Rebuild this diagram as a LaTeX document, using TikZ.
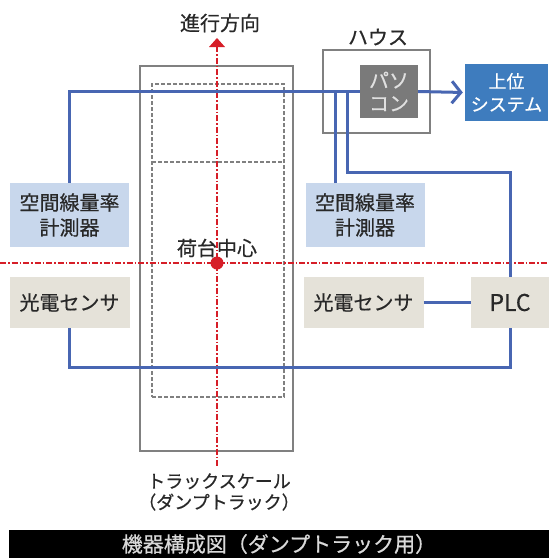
\documentclass[tikz,border=0pt]{standalone}
\usepackage{fontspec}
\newfontfamily\jp[FakeBold=0.6]{Noto Sans CJK JP}
\usetikzlibrary{arrows.meta,calc}
\definecolor{lineblue}{RGB}{72,102,178}
\definecolor{kukanblue}{RGB}{200,215,236}
\definecolor{beige}{RGB}{229,226,217}
\definecolor{framegray}{RGB}{128,128,128}
\definecolor{pcgray}{RGB}{122,122,122}
\definecolor{upperblue}{RGB}{62,124,190}
\definecolor{txt}{RGB}{40,40,40}
\definecolor{redline}{RGB}{214,30,40}
\tikzset{
  fbox/.style={inner sep=0pt, align=center, text=txt, font=\jp\fontsize{20}{25}\selectfont},
  kukan/.style={fbox, fill=kukanblue, minimum width=119pt, minimum height=64pt},
  kouden/.style={fbox, fill=beige, minimum width=120pt, minimum height=51pt},
  blueline/.style={draw=lineblue, line width=3pt},
  frame/.style={draw=framegray, line width=2.4pt},
  redaxis/.style={draw=redline, line width=1.1pt, dash pattern=on 6pt off 2pt on 1.5pt off 2pt},
  innerdash/.style={draw=framegray, line width=1.4pt, dash pattern=on 4pt off 2pt},
  lbl/.style={inner sep=0pt, text=txt, font=\jp\fontsize{20}{22}\selectfont}
}
\begin{document}
\begin{tikzpicture}[x=1pt,y=-1pt]
\useasboundingbox (0,0) rectangle (549,558);
\fill[white] (0,0) rectangle (549,558);

% truck scale
\node[frame, minimum width=153pt, minimum height=385pt, inner sep=0pt] (scale) at (216.5,258.5) {};
\node[innerdash, minimum width=132pt, minimum height=313pt, inner sep=0pt] (bed) at (218,240.5) {};
\coordinate (bedL) at (152,162);
\coordinate (bedR) at (284,162);
\draw[innerdash] (bedL) -- (bedR);

% axes
\coordinate (axTop) at (217,46);
\coordinate (axBot) at (217,467);
\coordinate (axL) at (0,263);
\coordinate (axR) at (549,263);
\draw[redaxis] (axTop) -- (axBot);
\draw[redaxis] (axL) -- (axR);
\fill[redline] (217,38) -- (225,47) -- (209,47) -- cycle;
\node[circle, fill=redline, minimum size=13pt, inner sep=0pt] (center) at (217,263) {};
\node[lbl] (centerlbl) at (217,248) {荷台中心};
\node[lbl] (dir) at (220,23) {進行方向};
\node[lbl, align=center, font=\jp\fontsize{18}{21}\selectfont] (scalelbl) at (219,492) {トラックスケール\\（ダンプトラック）};

% house
\node[frame, minimum width=107pt, minimum height=83pt, inner sep=0pt] (house) at (376.5,91.5) {};
\node[lbl] (houselbl) at (378,37) {ハウス};
\node[fbox, fill=pcgray, text=white!88!black, minimum width=58pt, minimum height=53pt, font=\jp\fontsize{20}{23}\selectfont] (pc) at (389,91.5) {パソ\\コン};
\node[fbox, fill=upperblue, text=white, minimum width=83pt, minimum height=57pt, font=\jp\fontsize{18}{23}\selectfont] (upper) at (506.5,92.5) {上位\\システム};

% devices
\node[kukan] (kukanL) at (69.5,215) {空間線量率\\計測器};
\node[kukan] (kukanR) at (365,215) {空間線量率\\計測器};
\node[kouden] (koudenL) at (69.5,302.5) {光電センサ};
\node[kouden] (koudenR) at (363.5,302.5) {光電センサ};
\node[fbox, fill=beige, minimum width=78pt, minimum height=51pt, font=\jp\fontsize{23}{26}\selectfont] (plc) at (510,302.5) {PLC};

% connectors
\coordinate (kR) at (335,183);
\coordinate (j2) at (347,91.5);
\coordinate (turn2) at (347,172);
\coordinate (bot) at (69.5,367);
\draw[blueline] (kukanL.north) |- (pc.west);
\draw[blueline] (kR) -- (kR |- pc.west);
\draw[blueline] (j2) -- (turn2) -| (plc.north);
\draw[blueline] (koudenL.south) -- (bot) -| (plc.south);
\draw[blueline] (koudenR.east) -- (plc.west);
\draw[blueline, -{Straight Barb[length=9pt, width=22pt, line width=3pt]}, shorten >=2pt] (pc.east) -- (upper.west);

% banner
\node[fill=black, minimum width=540pt, minimum height=28pt, inner sep=0pt, text=white!85!black, font=\jp\fontsize{21}{24}\selectfont] (banner) at (279,544) {機器構成図（ダンプトラック用）};
\end{tikzpicture}
\end{document}
